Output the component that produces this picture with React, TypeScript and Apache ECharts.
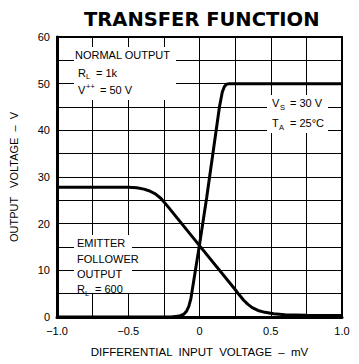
import React, { useEffect, useRef } from 'react';
import * as echarts from 'echarts';

// Normal output (R_L = 1k, V++ = 50 V)
const normalX = [-1, -0.2, -0.14, -0.11, -0.09, -0.075, -0.06, 0, 0.05, 0.14, 0.16, 0.175, 0.19, 0.21, 1];
const normalY = [0, 0, 0.2, 0.6, 1.3, 2.3, 4, 15.5, 25.5, 45, 48.2, 49.4, 49.9, 50, 50];

// Emitter follower output (R_L = 600)
const emitterX = [-1, -0.5, -0.44, -0.39, -0.35, -0.31, -0.27, -0.22, 0, 0.25, 0.28, 0.31, 0.34, 0.37, 0.41, 0.46, 0.52, 0.6, 0.75, 1];
const emitterY = [27.8, 27.8, 27.7, 27.4, 27.0, 26.4, 25.4, 23.6, 15.3, 5.9, 4.7, 3.6, 2.7, 2.0, 1.4, 1.0, 0.7, 0.5, 0.35, 0.3];

const xTickValues = [-1, -0.5, 0, 0.5, 1];
const xTickLabels = ['\u22121.0', '\u22120.5', '0', '0.5', '1.0'];
const yTickValues = [0, 10, 20, 30, 40, 50, 60];
const yTickLabels = ['0', '10', '20', '30', '40', '50', '60'];

const FONT = 'Liberation Sans';

function txt(text: string, x: number, y: number, size = 11) {
  return {
    type: 'text',
    x,
    y,
    z: 6,
    style: { text, fontSize: size, fontFamily: FONT, fill: '#000', verticalAlign: 'middle' },
  };
}
function box(x: number, y: number, w: number, h: number) {
  return { type: 'rect', z: 5, shape: { x, y, width: w, height: h }, style: { fill: '#fff' } };
}

export default function App() {
  const ref = useRef<HTMLDivElement>(null);
  useEffect(() => {
    const chart = echarts.init(ref.current!, null, { renderer: 'svg' });
    const pairs = (xs: number[], ys: number[]) => xs.map((x, i) => [x, ys[i]]);
    chart.setOption({
      animation: false,
      backgroundColor: '#fff',
      title: {
        text: 'TRANSFER FUNCTION',
        left: 79,
        top: 4,
        textStyle: { fontFamily: 'DejaVu Sans', fontWeight: 'bold', fontSize: 19.5, color: '#000' },
      },
      grid: { left: 57, right: 17, top: 37, bottom: 47, show: true, borderColor: '#000', borderWidth: 2, backgroundColor: 'transparent' },
      xAxis: {
        type: 'value',
        min: -1,
        max: 1,
        interval: 0.25,
        name: 'DIFFERENTIAL  INPUT  VOLTAGE  \u2013  mV',
        nameLocation: 'middle',
        nameGap: 29,
        nameTextStyle: { fontFamily: FONT, fontSize: 11.5, color: '#000' },
        axisLine: { show: true, onZero: false, lineStyle: { color: '#000', width: 3 } },
        axisTick: { show: false },
        axisLabel: {
          margin: 8,
          fontFamily: FONT,
          fontSize: 11,
          color: '#000',
          formatter: (v: number) => {
            const i = xTickValues.findIndex((t) => Math.abs(t - v) < 1e-9);
            return i >= 0 ? xTickLabels[i] : '';
          },
        },
        splitLine: { show: true, lineStyle: { color: '#000', width: 1 } },
      },
      yAxis: {
        type: 'value',
        min: 0,
        max: 60,
        interval: 5,
        name: 'OUTPUT   VOLTAGE  \u2013  V',
        nameLocation: 'middle',
        nameGap: 38,
        nameTextStyle: { fontFamily: FONT, fontSize: 11, color: '#000' },
        axisLine: { show: true, onZero: false, lineStyle: { color: '#000', width: 3 } },
        axisTick: { show: false },
        axisLabel: {
          margin: 7,
          fontFamily: FONT,
          fontSize: 11,
          color: '#000',
          formatter: (v: number) => {
            const i = yTickValues.indexOf(v);
            return i >= 0 ? yTickLabels[i] : '';
          },
        },
        splitLine: { show: true, lineStyle: { color: '#000', width: 1 } },
      },
      series: [
        {
          name: 'NORMAL OUTPUT',
          type: 'line',
          data: pairs(normalX, normalY),
          showSymbol: false,
          symbol: 'none',
          lineStyle: { color: '#000', width: 3 },
          z: 3,
        },
        {
          name: 'EMITTER FOLLOWER OUTPUT',
          type: 'line',
          data: pairs(emitterX, emitterY),
          showSymbol: false,
          symbol: 'none',
          lineStyle: { color: '#000', width: 3 },
          z: 3,
        },
      ],
      graphic: [
        box(74, 47, 102, 53),
        box(74, 235, 58, 58),
        box(267, 95, 61, 38),
        txt('NORMAL OUTPUT', 75, 55),
        txt('R', 78, 73),
        txt('L', 86, 76.5, 7.5),
        txt('= 1k', 96, 73),
        txt('V', 78, 90),
        txt('++', 86, 86, 7.5),
        txt('= 50 V', 100, 90),
        txt('V', 272, 103),
        txt('S', 280, 107, 7.5),
        txt('= 30 V', 290, 103),
        txt('T', 272, 123),
        txt('A', 279, 127, 7.5),
        txt('= 25\u00b0C', 290, 123),
        txt('EMITTER', 77, 243),
        txt('FOLLOWER', 77, 259),
        txt('OUTPUT', 77, 274),
        txt('R', 77, 289),
        txt('L', 85, 293.5, 7.5),
        txt('= 600', 95, 289),
      ],
    });
    return () => chart.dispose();
  }, []);
  return <div ref={ref} style={{ position: 'absolute', left: 0, top: 0, width: 359, height: 364 }} />;
}
